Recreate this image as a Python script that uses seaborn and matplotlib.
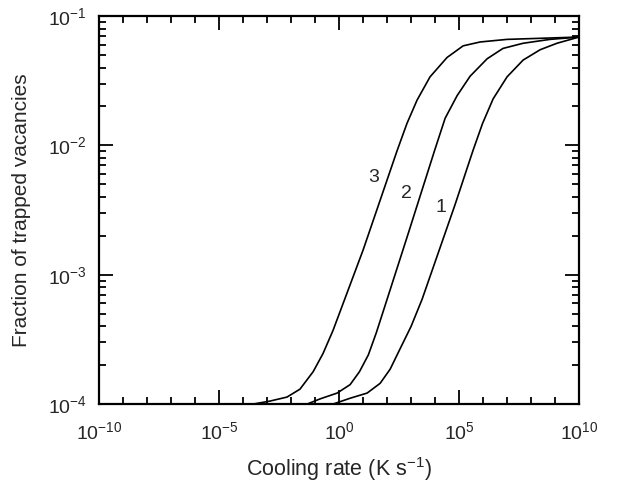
import numpy as np
import pandas as pd
import matplotlib
matplotlib.use("Agg")
import matplotlib.pyplot as plt
import matplotlib.ticker as mticker
import seaborn as sns

# values, as log10(cooling rate in K/s) and log10(fraction)
curve1_logx = [-0.25, 0.46, 1.17, 1.71, 2.13, 2.55, 3.00, 3.46, 4.83, 5.58,
               5.98, 6.42, 7.00, 7.67, 8.38, 9.08, 10.0]
curve1_logy = [-4.00, -3.955, -3.915, -3.84, -3.73, -3.57, -3.40, -3.19, -2.46, -2.04,
               -1.83, -1.64, -1.47, -1.34, -1.26, -1.21, -1.162]

curve2_logx = [-1.33, -0.79, -0.08, 0.46, 0.85, 1.22, 1.55, 1.88, 2.85, 3.98,
               4.42, 4.92, 5.46, 6.17, 6.83, 7.67, 8.79, 10.0]
curve2_logy = [-4.00, -3.96, -3.915, -3.85, -3.75, -3.62, -3.45, -3.26, -2.70, -2.04,
               -1.79, -1.615, -1.465, -1.33, -1.25, -1.21, -1.18, -1.162]

curve3_logx = [-3.58, -2.88, -2.17, -1.63, -1.08, -0.67, -0.25, 1.00, 2.42,
               2.83, 3.25, 3.79, 4.50, 5.17, 5.88, 7.00, 8.67, 10.0]
curve3_logy = [-4.00, -3.977, -3.946, -3.885, -3.75, -3.61, -3.43, -2.81, -2.04,
               -1.83, -1.65, -1.47, -1.32, -1.23, -1.20, -1.18, -1.17, -1.162]

curve_names = ["1", "2", "3"]
# where the curve numbers sit (log10 x, log10 y)
label_logx = [4.25, 2.79, 1.46]
label_logy = [-2.48, -2.37, -2.245]

frames = []
for name, lx, ly in zip(curve_names,
                        [curve1_logx, curve2_logx, curve3_logx],
                        [curve1_logy, curve2_logy, curve3_logy]):
    frames.append(pd.DataFrame({"rate": 10.0 ** np.array(lx),
                                "frac": 10.0 ** np.array(ly),
                                "curve": name}))
df = pd.concat(frames, ignore_index=True)

sns.set_style("ticks")
plt.rcParams['font.family'] = ['Liberation Sans', 'DejaVu Sans']
plt.rcParams['mathtext.fontset'] = 'custom'
plt.rcParams['mathtext.rm'] = 'Liberation Sans'
plt.rcParams['mathtext.it'] = 'Liberation Sans:italic'
plt.rcParams['mathtext.bf'] = 'Liberation Sans:bold'
plt.rcParams['lines.solid_joinstyle'] = 'round'

fig = plt.figure(figsize=(6.27, 4.88), dpi=100)
ax = fig.add_axes([0.158, 0.172, 0.7655, 0.795])

for name in curve_names:
    sns.lineplot(data=df[df["curve"] == name], x="rate", y="frac", ax=ax,
                 color="black", lw=1.2, estimator=None, sort=False)

for name, lx, ly in zip(curve_names, label_logx, label_logy):
    ax.text(10 ** lx, 10 ** ly, name, fontsize=14, ha="center", va="center")

ax.set_xscale("log")
ax.set_yscale("log")
ax.set_xlim(1e-10, 1e10)
ax.set_ylim(1e-4, 1e-1)

ax.xaxis.set_major_locator(mticker.FixedLocator([1e-10, 1e-5, 1e0, 1e5, 1e10]))
ax.xaxis.set_minor_locator(mticker.FixedLocator([10.0 ** k for k in range(-10, 11) if k % 5 != 0]))
ax.xaxis.set_minor_formatter(mticker.NullFormatter())
ax.yaxis.set_major_locator(mticker.LogLocator(base=10, numticks=10))
ax.yaxis.set_minor_locator(mticker.LogLocator(base=10, subs=np.arange(2, 10), numticks=20))
ax.yaxis.set_minor_formatter(mticker.NullFormatter())

ax.tick_params(which="both", direction="in", top=True, right=True, width=1.3, color="black")
ax.tick_params(which="major", length=10)
ax.tick_params(which="minor", length=5)
ax.tick_params(axis="x", which="major", labelsize=14, pad=12)
ax.tick_params(axis="y", which="major", labelsize=14, pad=9)

for sp in ax.spines.values():
    sp.set_linewidth(1.6)
    sp.set_color("black")

ax.set_xlabel("Cooling rate (K s$^{-1}$)", fontsize=15.5, labelpad=9)
ax.set_ylabel("Fraction of trapped vacancies", fontsize=15, labelpad=12)

fig.savefig("out.png", dpi=100)
